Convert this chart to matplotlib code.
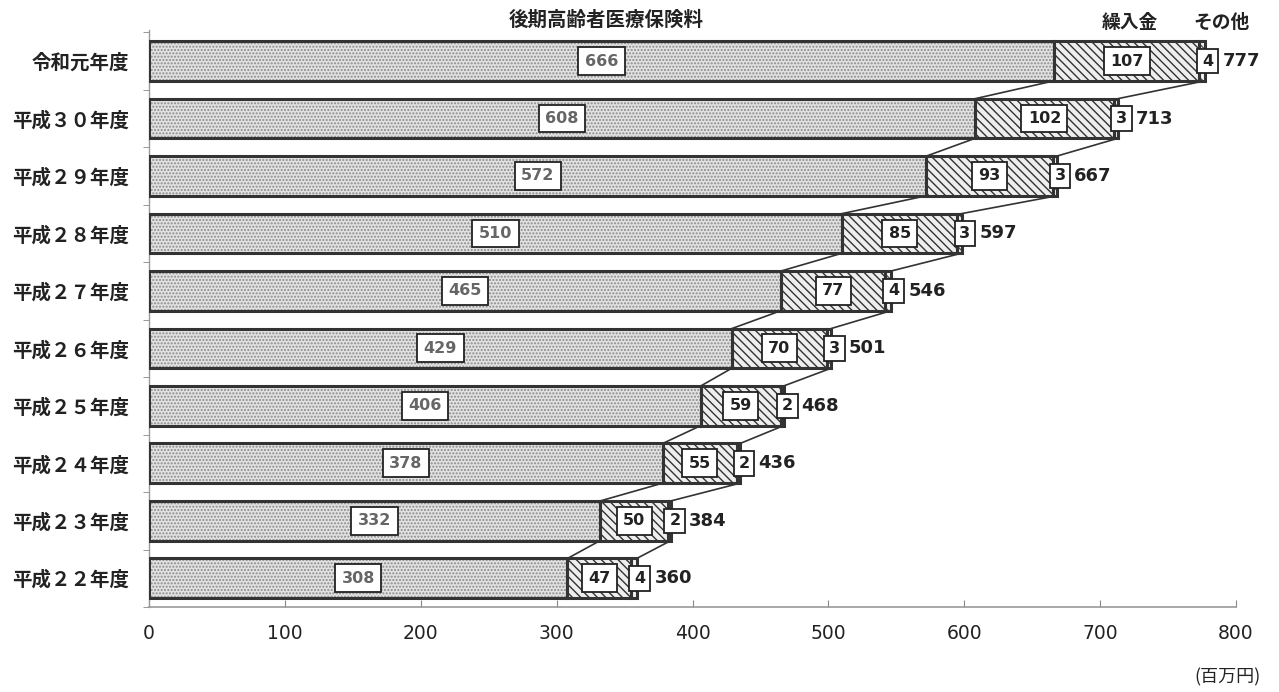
import matplotlib
matplotlib.use("Agg")
import matplotlib.pyplot as plt
import numpy as np

plt.rcParams['font.family'] = ['Noto Sans CJK JP', 'DejaVu Sans']
plt.rcParams['hatch.linewidth'] = 1.0

years = ["平成２２年度", "平成２３年度", "平成２４年度", "平成２５年度", "平成２６年度",
         "平成２７年度", "平成２８年度", "平成２９年度", "平成３０年度", "令和元年度"]
premium = [308, 332, 378, 406, 429, 465, 510, 572, 608, 666]
transfer = [47, 50, 55, 59, 70, 77, 85, 93, 102, 107]
other = [4, 2, 2, 2, 3, 4, 3, 3, 3, 4]
total = [360, 384, 436, 468, 501, 546, 597, 667, 713, 777]
xticks = [0, 100, 200, 300, 400, 500, 600, 700, 800]
headers = ["後期高齢者医療保険料", "繰入金", "その他"]
unit = "(百万円)"

fig = plt.figure(figsize=(12.79, 6.92), dpi=100)
ax = fig.add_axes([149/1279, 1-607/692, (1236-149)/1279, (607-30)/692])

y = np.arange(len(years))
h = 0.69
p = np.array(premium, float)
t = np.array(transfer, float)
o = np.array(other, float)

# fills with hatches
ax.barh(y, p, height=h, color='#e2e2e2', edgecolor='#8a8a8a', hatch='.....', linewidth=0, zorder=2)
ax.barh(y, t, left=p, height=h, color='#eeeeee', edgecolor='#333333', hatch='\\\\\\\\', linewidth=0, zorder=2)
ax.barh(y, o, left=p+t, height=h, color='#f4f4f4', edgecolor='#555555', hatch='\\\\\\', linewidth=0, zorder=2)
# borders
for left, w in [(0*p, p), (p, t), (p+t, o)]:
    ax.barh(y, w, left=left, height=h, fill=False, edgecolor='#333333', linewidth=2.2, zorder=3)

# series lines
for e in [p, p+t+o]:
    for i in range(len(y)-1):
        ax.plot([e[i+1], e[i]], [y[i+1]-h/2, y[i]+h/2], color='#333333', lw=1.2, zorder=1)

box = dict(boxstyle='square,pad=0.4', facecolor='white', edgecolor='#222222', linewidth=1.3)
box2 = dict(boxstyle='square,pad=0.3', facecolor='white', edgecolor='#222222', linewidth=1.3)
for i in range(len(y)):
    ax.text(p[i]/2, y[i], f"{premium[i]}", ha='center', va='center', fontsize=11.5,
            family='DejaVu Sans', fontweight='bold', color='#666666', bbox=box, zorder=5)
    ax.text(p[i]+t[i]/2, y[i], f"{transfer[i]}", ha='center', va='center', fontsize=11.5,
            family='DejaVu Sans', fontweight='bold', color='#222222', bbox=box, zorder=5)
    ax.text(p[i]+t[i]+o[i]/2 + 4, y[i], f"{other[i]}", ha='center', va='center', fontsize=11.5,
            family='DejaVu Sans', fontweight='bold', color='#222222', bbox=box2, zorder=5)
    ax.text(p[i]+t[i]+o[i]+13, y[i], f"{total[i]}", ha='left', va='center', fontsize=13,
            family='DejaVu Sans', fontweight='bold', color='#222222', zorder=5)

ax.set_xlim(0, 800)
ax.set_ylim(-0.35, 9.54)
ax.set_yticks(y)
ax.set_yticklabels(years, fontsize=14, fontweight='bold', color='#222222')
ax.set_yticks(np.arange(-0.5, 10, 1), minor=True)
ax.set_xticks(xticks)
ax.set_xticklabels([str(v) for v in xticks], fontsize=13.5, family='DejaVu Sans', color='#222222')
ax.tick_params(axis='y', which='major', length=0, pad=14)
ax.tick_params(axis='y', which='minor', length=4, direction='out', color='#888888')
ax.tick_params(axis='x', length=5, direction='in', color='#888888', pad=12)
for s in ['top', 'right']:
    ax.spines[s].set_visible(False)
ax.spines['left'].set_color('#999999')
ax.spines['bottom'].set_color('#999999')
ax.spines['left'].set_linewidth(1.0)
ax.spines['bottom'].set_linewidth(1.2)

fig.text(606/1279, 1-20/692, headers[0], ha='center', va='center', fontsize=14, fontweight='bold', color='#222222')
fig.text(1130/1279, 1-22/692, headers[1], ha='center', va='center', fontsize=13.5, fontweight='bold', color='#222222')
fig.text(1221/1279, 1-22/692, headers[2], ha='center', va='center', fontsize=13.5, fontweight='bold', color='#222222')
fig.text(1227/1279, 1-677/692, unit, ha='center', va='center', fontsize=13, color='#222222')

fig.savefig("out.png", dpi=100)
